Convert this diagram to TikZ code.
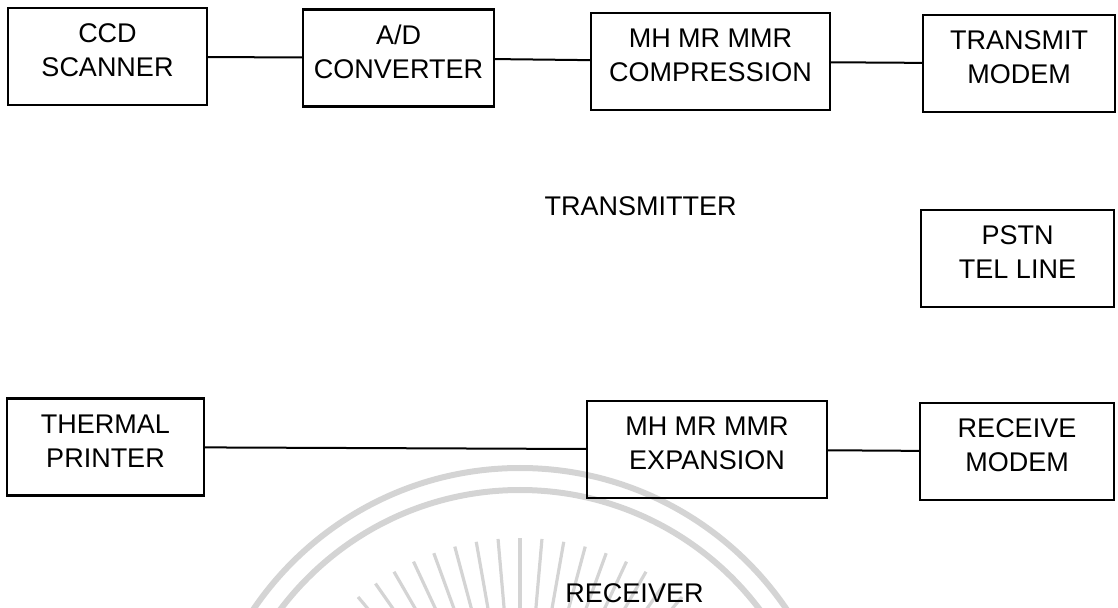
\documentclass[tikz,border=0pt]{standalone}
\usepackage{fontspec}
\setmainfont{Liberation Sans}
\usetikzlibrary{positioning}

\begin{document}
\begin{tikzpicture}[
    x=0.5pt, y=-0.5pt,
    box/.style={draw, line width=1.1pt, align=center, inner sep=0pt,
                minimum height=48.5pt, text depth=6pt,
                font=\fontsize{13.5}{17}\selectfont},
    title/.style={anchor=base, inner sep=0pt, font=\fontsize{13.5}{17}\selectfont},
    lnk/.style={line width=1pt},
    wm/.style={draw=black!17, line width=1.6pt}
]
\useasboundingbox (0,0) rectangle (1118,608);

% faint emblem from the scan
\begin{scope}
\clip (0,0) rectangle (1118,608);
\draw[wm, line width=3pt] (520,790) circle[radius=322];
\draw[wm, line width=3pt] (520,790) circle[radius=300];
\foreach \a in {0,5,...,355}
  \draw[wm, shift={(520,790)}] (\a:170) -- (\a:252);
\end{scope}

\node[box, minimum width=99.5pt] (ccd)  at (107.5,56.5) {CCD\\SCANNER};
\node[box, minimum width=95.5pt] (adc)  at (398.5,58)   {A/D\\CONVERTER};
\node[box, minimum width=119.5pt](comp) at (710.5,61.5) {MH MR MMR\\COMPRESSION};
\node[box, minimum width=96pt]   (txm)  at (1019,63.5)  {TRANSMIT\\MODEM};
\node[box, minimum width=96.5pt] (pstn) at (1017.5,258.5) {PSTN\\TEL LINE};
\node[box, minimum width=98.5pt] (prn)  at (105.5,447)  {THERMAL\\PRINTER};
\node[box, minimum width=120pt]  (exp)  at (707,449.5)  {MH MR MMR\\EXPANSION};
\node[box, minimum width=97pt]   (rxm)  at (1017,451.5) {RECEIVE\\MODEM};

\node[title] (tx) at (640.5,216) {TRANSMITTER};
\node[title] (rx) at (634.5,602) {RECEIVER};

\draw[lnk] (ccd) -- (adc);
\draw[lnk] (adc) -- (comp);
\draw[lnk] (comp) -- (txm);
\draw[lnk] (prn) -- (exp);
\draw[lnk] (exp) -- (rxm);
\end{tikzpicture}
\end{document}
